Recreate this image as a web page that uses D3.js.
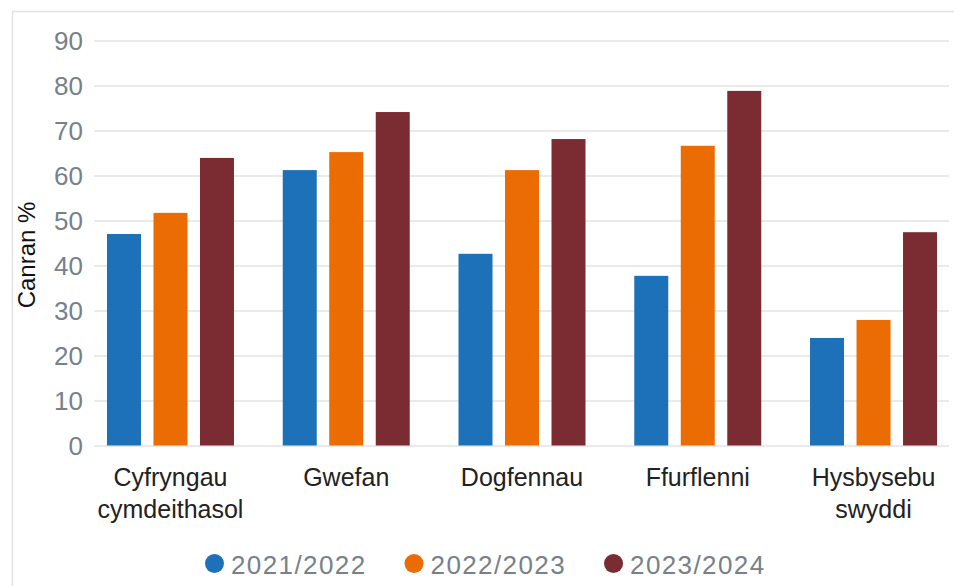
<!doctype html>
<html>
  <head>
    <script src="https://d3js.org/d3.v7.min.js"></script>
    <style>
      body { margin: 0; background: #fff; }
      svg { display: block; font-family: "Liberation Sans", Arial, sans-serif; }
      .grid line { stroke: #e3e3e3; stroke-width: 1.6; }
      .grid path { stroke-width: 0; }
      .yaxis text { font-size: 26px; fill: #76818b; }
      .xlabel { font-size: 25px; fill: #222; }
      .ytitle { font-size: 24px; fill: #111; }
      .legend text { font-size: 26px; fill: #76818b; letter-spacing: 1.4px; }
    </style>
  </head>
  <body>
    <svg id="chart" width="954" height="586"></svg>
    <script>
      // data
      const categories = [
        ["Cyfryngau", "cymdeithasol"],
        ["Gwefan"],
        ["Dogfennau"],
        ["Ffurflenni"],
        ["Hysbysebu", "swyddi"]
      ];
      const seriesNames = ["2021/2022", "2022/2023", "2023/2024"];
      const seriesColors = ["#1d71b8", "#ec6c04", "#7a2c32"];
      const values2122 = [47.0, 61.2, 42.6, 37.7, 23.9];
      const values2223 = [51.7, 65.2, 61.2, 66.6, 27.9];
      const values2324 = [63.9, 74.1, 68.1, 78.8, 47.4];
      const yTicks = [0, 10, 20, 30, 40, 50, 60, 70, 80, 90];

      const series = [values2122, values2223, values2324];
      const catKeys = categories.map(c => c.join(" "));

      const svg = d3.select("#chart");

      // outer frame (top and left edges)
      svg.append("path")
        .attr("d", "M12.5,586 V11.5 H954")
        .attr("fill", "none")
        .attr("stroke", "#e2e2e2")
        .attr("stroke-width", 1.5);

      const y = d3.scaleLinear().domain([0, 90]).range([445.5, 40.5]);
      const x0 = d3.scaleBand().domain(catKeys).range([82.6, 961.4]).padding(0);
      const x1 = d3.scaleBand().domain(seriesNames).range([-63.5, 63.5]).paddingInner(0.269);

      // gridlines
      svg.append("g")
        .attr("class", "grid")
        .attr("transform", "translate(94,0)")
        .call(d3.axisLeft(y).tickValues(yTicks).tickSize(-855).tickFormat(""));

      // y tick labels
      const ya = svg.append("g")
        .attr("class", "yaxis")
        .attr("transform", "translate(94,0)")
        .call(d3.axisLeft(y).tickValues(yTicks).tickSize(0).tickPadding(11));
      ya.select(".domain").remove();
      ya.selectAll("text").attr("dy", "0.36em");

      // bars
      const groups = svg.append("g").selectAll("g")
        .data(catKeys)
        .join("g")
        .attr("transform", d => `translate(${x0(d) + x0.bandwidth() / 2},0)`);

      groups.selectAll("rect")
        .data((d, i) => seriesNames.map((s, j) => ({ s: s, v: series[j][i], c: seriesColors[j] })))
        .join("rect")
        .attr("x", d => x1(d.s))
        .attr("width", x1.bandwidth())
        .attr("y", d => y(d.v))
        .attr("height", d => y(0) - y(d.v))
        .attr("fill", d => d.c);

      // category labels
      svg.append("g").selectAll("text")
        .data(categories)
        .join("text")
        .attr("class", "xlabel")
        .attr("text-anchor", "middle")
        .attr("x", (d, i) => x0(catKeys[i]) + x0.bandwidth() / 2)
        .attr("y", 486)
        .selectAll("tspan")
        .data(d => d)
        .join("tspan")
        .attr("x", function () { return this.parentNode.getAttribute("x"); })
        .attr("dy", (d, i) => i === 0 ? 0 : 32)
        .text(d => d);

      // y title
      svg.append("text")
        .attr("class", "ytitle")
        .attr("transform", "translate(35,255) rotate(-90)")
        .attr("text-anchor", "middle")
        .text("Canran %");

      // legend
      const legend = svg.append("g").attr("class", "legend");
      const items = legend.selectAll("g")
        .data(seriesNames)
        .join("g");
      items.append("circle")
        .attr("r", 9.5)
        .attr("cy", 563.5)
        .attr("fill", (d, i) => seriesColors[i]);
      items.append("text")
        .attr("y", 574)
        .text(d => d);

      let cx = 205;
      items.each(function () {
        const g = d3.select(this);
        const w = g.select("text").node().getComputedTextLength();
        g.select("circle").attr("cx", cx + 9.5);
        g.select("text").attr("x", cx + 26);
        cx += 26 + w + 38;
      });
    </script>
  </body>
</html>
